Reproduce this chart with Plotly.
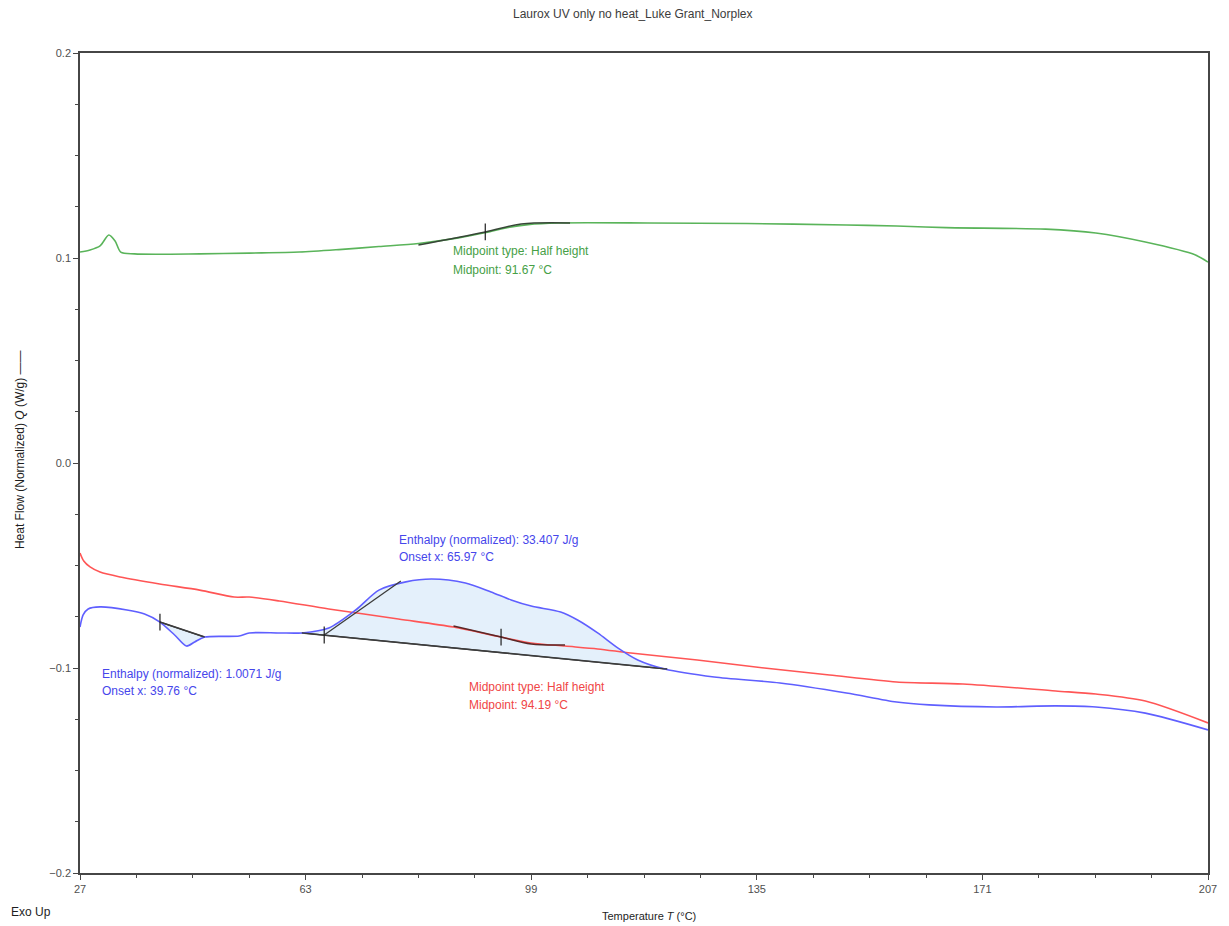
import plotly.graph_objects as go

# ---------------- data ----------------
green_T = [27.0, 28.6, 30.2, 31.6, 32.6, 33.5, 35.7, 46.1, 54.0, 62.0, 68.3, 74.7, 81.0, 87.4,
           91.8, 95.3, 98.5, 103.3, 117.6, 133.4, 149.3, 157.3, 165.2, 181.1, 189.1, 197.0, 205.0, 207.0]
green_Q = [0.1029, 0.1039, 0.1059, 0.1112, 0.1083, 0.1029, 0.1020, 0.1020, 0.1024, 0.1029, 0.1041,
           0.1056, 0.1071, 0.1098, 0.1124, 0.1149, 0.1163, 0.1171, 0.1171, 0.1168, 0.1161, 0.1156,
           0.1148, 0.1141, 0.1122, 0.1078, 0.1015, 0.0980]

red_T = [27.0, 27.6, 28.6, 30.2, 33.4, 39.7, 46.1, 51.6, 54.0, 58.8, 66.7, 77.8, 86.6, 94.2, 99.0,
         104.4, 109.6, 114.9, 125.5, 136.2, 146.6, 157.3, 167.9, 182.7, 189.1, 197.0, 207.0]
red_Q = [-0.0439, -0.0478, -0.0507, -0.0532, -0.0556, -0.0590, -0.0620, -0.0654, -0.0654, -0.0673,
         -0.0712, -0.0761, -0.0800, -0.0849, -0.0878, -0.0893, -0.0907, -0.0927, -0.0961, -0.1000,
         -0.1034, -0.1068, -0.1078, -0.1112, -0.1127, -0.1161, -0.1268]

blue_T = [27.0, 27.5, 28.3, 30.2, 34.5, 37.3, 39.76, 42.1, 44.0, 45.3, 46.9, 52.4, 54.0, 58.8, 62.4,
          66.7, 71.0, 74.7, 79.0, 83.1, 88.5, 92.6, 95.8, 99.0, 103.7, 106.4, 109.6, 112.8, 116.0,
          120.3, 128.2, 138.7, 149.3, 157.3, 162.5, 173.2, 182.7, 189.1, 197.0, 207.0]
blue_Q = [-0.0800, -0.0741, -0.0712, -0.0702, -0.0717, -0.0737, -0.0776, -0.0839, -0.0893, -0.0873,
          -0.0849, -0.0844, -0.0829, -0.0829, -0.0829, -0.0805, -0.0717, -0.0620, -0.0580, -0.0566,
          -0.0585, -0.0629, -0.0668, -0.0698, -0.0727, -0.0766, -0.0829, -0.0902, -0.0961, -0.1005,
          -0.1044, -0.1073, -0.1122, -0.1166, -0.1180, -0.1190, -0.1185, -0.1190, -0.1220, -0.1302]

# analysis constructions
small_base_T = [39.76, 46.9]
small_base_Q = [-0.0776, -0.0849]
big_base_T = [62.4, 120.7]
big_base_Q = [-0.0829, -0.1005]
onset_tan_T = [65.97, 78.2]
onset_tan_Q = [-0.0839, -0.0576]
green_tan_T = [81.0, 91.67, 97.4, 105.2]
green_tan_Q = [0.1063, 0.1127, 0.1166, 0.1171]
red_tan_T = [86.6, 94.19, 99.0, 104.4]
red_tan_Q = [-0.0795, -0.0849, -0.0883, -0.0888]
marker_T = [39.76, 65.97, 91.67, 94.19]
marker_Q = [-0.0776, -0.0839, 0.1127, -0.0849]

x_ticks = [27, 63, 99, 135, 171, 207]
y_ticks = [-0.2, -0.1, 0.0, 0.1, 0.2]

GREEN = "rgb(90,180,90)"
RED = "rgb(255,85,85)"
BLUE = "rgb(95,95,255)"
FILL = "rgba(205,228,248,0.55)"
DARK = "rgb(60,60,60)"
FONT = "Liberation Sans, Arial, sans-serif"

fig = go.Figure()


def fill_between(base_T, base_Q):
    seg_T = [base_T[0]]
    seg_Q = [base_Q[0]]
    for t, q in zip(blue_T, blue_Q):
        if base_T[0] < t < base_T[1]:
            seg_T.append(t)
            seg_Q.append(q)
    seg_T.append(base_T[1])
    seg_Q.append(base_Q[1])
    fig.add_trace(go.Scatter(x=base_T, y=base_Q, mode="lines",
                             line=dict(color=DARK, width=1.5), hoverinfo="skip"))
    fig.add_trace(go.Scatter(x=seg_T, y=seg_Q, mode="lines", fill="tonexty",
                             fillcolor=FILL, line=dict(width=0, shape="spline", smoothing=0.8),
                             hoverinfo="skip"))


fill_between(small_base_T, small_base_Q)
fill_between(big_base_T, big_base_Q)

for T, Q, c in [(green_T, green_Q, GREEN), (red_T, red_Q, RED), (blue_T, blue_Q, BLUE)]:
    fig.add_trace(go.Scatter(x=T, y=Q, mode="lines",
                             line=dict(color=c, width=1.6, shape="spline", smoothing=0.8)))

# redraw baselines on top
for T, Q in [(small_base_T, small_base_Q), (big_base_T, big_base_Q), (onset_tan_T, onset_tan_Q)]:
    fig.add_trace(go.Scatter(x=T, y=Q, mode="lines", line=dict(color=DARK, width=1.3)))
fig.add_trace(go.Scatter(x=green_tan_T, y=green_tan_Q, mode="lines",
                         line=dict(color="rgb(55,70,55)", width=1.5, shape="spline")))
fig.add_trace(go.Scatter(x=red_tan_T, y=red_tan_Q, mode="lines",
                         line=dict(color="rgb(90,40,40)", width=1.5, shape="spline")))
fig.add_trace(go.Scatter(x=marker_T, y=marker_Q, mode="markers",
                         marker=dict(symbol="line-ns", size=12,
                                     line=dict(color="rgb(30,30,30)", width=1.2))))

annos = [
    (86.26, 0.1034, "Midpoint type: Half height", "rgb(70,160,70)"),
    (86.26, 0.0941, "Midpoint: 91.67 °C", "rgb(70,160,70)"),
    (77.52, -0.0376, "Enthalpy (normalized): 33.407 J/g", "rgb(70,70,235)"),
    (77.52, -0.0459, "Onset x: 65.97 °C", "rgb(70,70,235)"),
    (30.18, -0.1029, "Enthalpy (normalized): 1.0071 J/g", "rgb(70,70,235)"),
    (30.18, -0.1112, "Onset x: 39.76 °C", "rgb(70,70,235)"),
    (88.8, -0.1093, "Midpoint type: Half height", "rgb(240,70,70)"),
    (88.8, -0.1180, "Midpoint: 94.19 °C", "rgb(240,70,70)"),
]
for x, y, t, c in annos:
    fig.add_annotation(x=x, y=y, text=t, showarrow=False, xanchor="left", yanchor="middle",
                       font=dict(family=FONT, size=12, color=c))

# title and axis titles
fig.add_annotation(xref="paper", yref="paper", x=0.49, y=1.047, text="Laurox UV only no heat_Luke Grant_Norplex",
                   showarrow=False, xanchor="center", yanchor="middle",
                   font=dict(family=FONT, size=12, color="rgb(60,60,60)"))
fig.add_annotation(xref="paper", yref="paper", x=0.504, y=-0.053, text="Temperature <i>T</i> (°C)",
                   showarrow=False, xanchor="center", yanchor="middle",
                   font=dict(family=FONT, size=11, color="rgb(30,30,30)"))
fig.add_annotation(xref="paper", yref="paper", x=-0.063, y=-0.048, text="Exo Up",
                   showarrow=False, xanchor="left", yanchor="middle",
                   font=dict(family=FONT, size=12, color="rgb(30,30,30)"))
fig.add_annotation(xref="paper", yref="paper", x=-0.053, y=0.516,
                   text="Heat Flow (Normalized) <i>Q</i> (W/g) ——",
                   showarrow=False, textangle=-90, xanchor="center", yanchor="middle",
                   font=dict(family=FONT, size=12, color="rgb(30,30,30)"))

fig.update_layout(
    width=1229, height=926,
    margin=dict(l=80, r=16, t=53, b=53),
    plot_bgcolor="white", paper_bgcolor="white",
    showlegend=False,
    font=dict(family=FONT),
)
fig.update_xaxes(range=[27, 207], tickvals=x_ticks, ticks="outside", ticklen=5, tickwidth=1,
                 tickcolor="rgb(70,70,70)",
                 minor=dict(tick0=27, dtick=9, ticks="outside", ticklen=3, tickcolor="rgb(70,70,70)"),
                 showgrid=False, zeroline=False, showline=True, linecolor="rgb(70,70,70)",
                 linewidth=1.5, mirror=True,
                 tickfont=dict(family=FONT, size=11, color="rgb(80,80,80)"))
fig.update_yaxes(range=[-0.2, 0.2], tickvals=y_ticks, tickformat=".1f", ticks="outside", ticklen=5,
                 tickwidth=1, tickcolor="rgb(70,70,70)",
                 minor=dict(tick0=0, dtick=0.025, ticks="outside", ticklen=3, tickcolor="rgb(70,70,70)"),
                 showgrid=False, zeroline=False, showline=True, linecolor="rgb(70,70,70)",
                 linewidth=1.5, mirror=True,
                 tickfont=dict(family=FONT, size=11, color="rgb(80,80,80)"))

fig.write_html("out.html")
